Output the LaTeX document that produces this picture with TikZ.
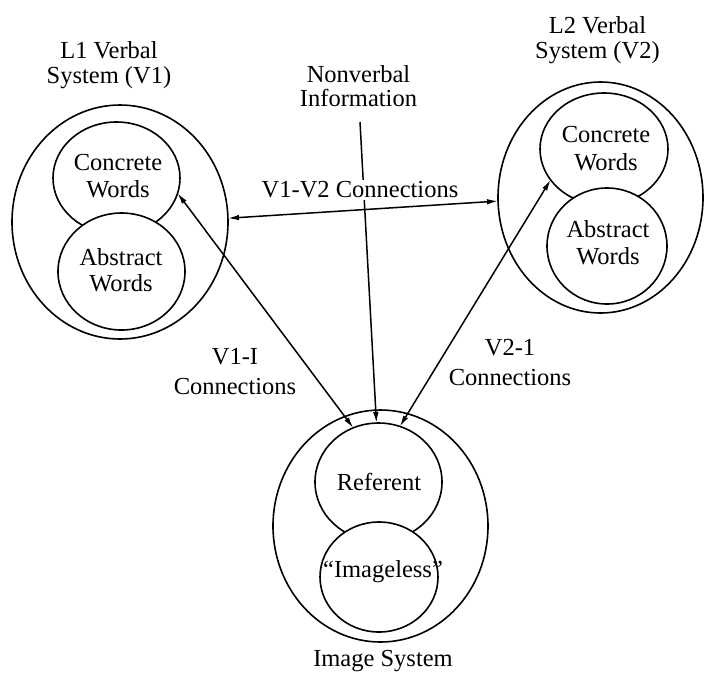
\documentclass[tikz,border=0pt]{standalone}
\usepackage{fontspec}
\setmainfont{Liberation Serif}
\usetikzlibrary{shapes.geometric,arrows.meta}
\begin{document}
\begin{tikzpicture}[x=1pt,y=-1pt,
  ell/.style n args={2}{ellipse,draw,line width=1.6pt,inner sep=0pt,outer sep=0pt,minimum width=#1,minimum height=#2},
  txt/.style={font=\fontsize{24.5}{#1}\selectfont,align=center,inner sep=0pt},
  txt/.default=27,
  tip/.tip={Latex[length=11pt,width=5.5pt]},
  both/.style={line width=1.5pt,tip-tip},
  one/.style={line width=1.5pt,-tip}]
\path[use as bounding box,fill=white] (0,0) rectangle (704,673);

% L1 verbal system
\node[ell={216}{234}] (v1) at (120,222) {};
\node[ell={127}{112}] (v1c) at (116.5,178) {};
\node[ell={127}{117},fill=white] (v1a) at (121.5,271.5) {};
\node[txt] (v1ct) at (118,176.5) {Concrete\\Words};
\node[txt=26] (v1at) at (121,270) {Abstract\\Words};
\node[txt=25] (l1) at (109,65.5) {L1 Verbal\\System (V1)};

% L2 verbal system
\node[ell={205}{231}] (v2) at (600.5,197.5) {};
\node[ell={128}{112}] (v2c) at (604,149) {};
\node[ell={120}{116},fill=white] (v2a) at (607,246) {};
\node[txt=28] (v2ct) at (606,149) {Concrete\\Words};
\node[txt] (v2at) at (608,243) {Abstract\\Words};
\node[txt=25] (l2) at (597.5,40.5) {L2 Verbal\\System (V2)};

% Image system
\node[ell={215}{232}] (img) at (380.5,526) {};
\node[ell={127}{118}] (ref) at (378.5,482) {};
\node[ell={118}{110},fill=white] (iml) at (379,577) {};
\node[txt] (reft) at (379,482) {Referent};
\node[txt] (imlt) at (383,572) {“Imageless”};
\node[txt] (imgt) at (383,661) {Image System};

% Nonverbal information
\node[txt=24] (nv) at (358.5,86) {Nonverbal\\Information};
\coordinate (nvs) at (360,122);
\draw[one] (nvs) -- (ref.92.4);

% V1-V2 connections
\node[txt,fill=white,inner sep=2pt] (v12) at (360,190) {V1-V2 Connections};
\draw[both] (v1.2.7) -- (v2.182.5);

% V1-I and V2-1 connections
\draw[both] (v1c.-14) -- (ref.115.7);
\draw[both] (v2c.210) -- (ref.69.7);
\node[txt=30] (v1i) at (235,372) {V1-I\\Connections};
\node[txt=30] (v2i) at (510,362) {V2-1\\Connections};
\end{tikzpicture}
\end{document}
